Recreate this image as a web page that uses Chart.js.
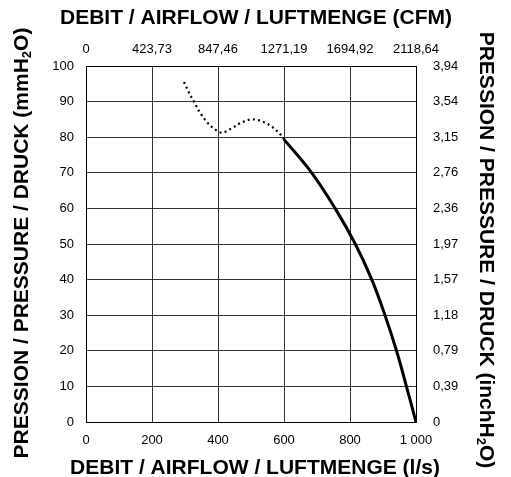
<!DOCTYPE html>
<html lang="en">
<head>
  <meta charset="UTF-8" />
  <title>Fan curve - Debit / Airflow / Luftmenge</title>
  <script src="https://cdn.jsdelivr.net/npm/chart.js"></script>
  <style>
    html, body { margin: 0; padding: 0; background: #fff; }
    canvas { display: block; }
  </style>
</head>
<body>
  <canvas id="fanChart" width="511" height="477"></canvas>

  <script>
    // Axis ticks and labels
    const flowTicks = [0, 200, 400, 600, 800, 1000];
    const flowLabels = ['0', '200', '400', '600', '800', '1 000'];
    const cfmLabels = ['0', '423,73', '847,46', '1271,19', '1694,92', '2118,64'];
    const pressureTicks = [0, 10, 20, 30, 40, 50, 60, 70, 80, 90, 100];
    const inchLabels = ['0', '0,39', '0,79', '1,18', '1,57', '1,97', '2,36', '2,76', '3,15', '3,54', '3,94'];

    // Unstable zone (dotted) - l/s and mmH2O
    const stallFlow = [297, 311, 328, 345, 366, 391, 412, 445, 473, 503, 535, 564, 590, 600];
    const stallPressure = [95.5, 92.7, 89.8, 87.0, 84.3, 82.2, 81.3, 82.7, 84.2, 85.0, 84.4, 82.9, 80.7, 79.4];

    // Working zone (solid)
    const workFlow = [600, 684, 755, 816, 866, 906, 941, 971, 1000];
    const workPressure = [79.4, 70, 60, 50, 40, 30, 20, 10, 0];

    const toPoints = (xs, ys) => xs.map((x, i) => ({ x: x, y: ys[i] }));

    const titleFont = 'bold 21px "Liberation Sans", Arial, sans-serif';
    const subFont = 'bold 13px "Liberation Sans", Arial, sans-serif';

    // draws a title made of pieces, some of them subscript
    function drawTitle(ctx, parts, cx, cy, rot) {
      ctx.save();
      ctx.translate(cx, cy);
      ctx.rotate(rot);
      ctx.fillStyle = '#000';
      ctx.textBaseline = 'middle';
      ctx.textAlign = 'left';
      let total = 0;
      const widths = parts.map(p => {
        ctx.font = p.sub ? subFont : titleFont;
        const w = ctx.measureText(p.t).width;
        total += w;
        return w;
      });
      let x = -total / 2;
      parts.forEach((p, i) => {
        ctx.font = p.sub ? subFont : titleFont;
        ctx.fillText(p.t, x, p.sub ? 5 : 0);
        x += widths[i];
      });
      ctx.restore();
    }

    const titlesPlugin = {
      id: 'titles',
      afterDraw(chart) {
        const ctx = chart.ctx;
        drawTitle(ctx, [{ t: 'DEBIT / AIRFLOW / LUFTMENGE (CFM)' }], 256, 18, 0);
        drawTitle(ctx, [{ t: 'DEBIT / AIRFLOW / LUFTMENGE (l/s)' }], 255, 468, 0);
        drawTitle(ctx, [{ t: 'PRESSION / PRESSURE / DRUCK (mmH' }, { t: '2', sub: true }, { t: 'O)' }], 22, 243, -Math.PI / 2);
        drawTitle(ctx, [{ t: 'PRESSION / PRESSURE / DRUCK (inchH' }, { t: '2', sub: true }, { t: 'O)' }], 486, 250, Math.PI / 2);
      }
    };

    const tickFont = { family: '"Liberation Sans", Arial, sans-serif', size: 13 };
    const gridStyle = { color: '#333', lineWidth: 1, drawTicks: false };
    const borderStyle = { color: '#000', width: 1 };

    function fixedTicks(values) {
      return function (scale) {
        scale.ticks = values.map(v => ({ value: v }));
      };
    }

    const ctx = document.getElementById('fanChart').getContext('2d');
    new Chart(ctx, {
      type: 'line',
      data: {
        datasets: [
          {
            data: toPoints(stallFlow, stallPressure),
            borderColor: '#000',
            borderWidth: 2.2,
            borderDash: [2, 3.2],
            pointRadius: 0,
            tension: 0.35,
            fill: false
          },
          {
            data: toPoints(workFlow, workPressure),
            borderColor: '#000',
            borderWidth: 3,
            pointRadius: 0,
            tension: 0.4,
            fill: false
          }
        ]
      },
      options: {
        responsive: false,
        animation: false,
        devicePixelRatio: 1,
        layout: { padding: 0 },
        plugins: { legend: { display: false }, tooltip: { enabled: false } },
        scales: {
          x: {
            type: 'linear', position: 'bottom', min: 0, max: 1000,
            afterBuildTicks: fixedTicks(flowTicks),
            afterFit: s => { s.height = 55; },
            grid: gridStyle, border: borderStyle,
            ticks: { color: '#000', font: tickFont, padding: 11, maxRotation: 0,
              callback: (v, i) => flowLabels[i] }
          },
          x2: {
            type: 'linear', position: 'top', min: 0, max: 1000,
            afterBuildTicks: fixedTicks(flowTicks),
            afterFit: s => { s.height = 66; },
            grid: { display: true, drawOnChartArea: false, drawTicks: false },
            border: borderStyle,
            ticks: { color: '#000', font: tickFont, padding: 9, maxRotation: 0,
              callback: (v, i) => cfmLabels[i] }
          },
          y: {
            type: 'linear', position: 'left', min: 0, max: 100,
            afterBuildTicks: fixedTicks(pressureTicks),
            afterFit: s => { s.width = 86; },
            grid: gridStyle, border: borderStyle,
            ticks: { color: '#000', font: tickFont, padding: 12,
              callback: (v, i) => String(pressureTicks[i]) }
          },
          y2: {
            type: 'linear', position: 'right', min: 0, max: 100,
            afterBuildTicks: fixedTicks(pressureTicks),
            afterFit: s => { s.width = 95; },
            grid: { display: true, drawOnChartArea: false, drawTicks: false },
            border: borderStyle,
            ticks: { color: '#000', font: tickFont, padding: 17,
              callback: (v, i) => inchLabels[i] }
          }
        }
      },
      plugins: [titlesPlugin]
    });
  </script>
</body>
</html>
